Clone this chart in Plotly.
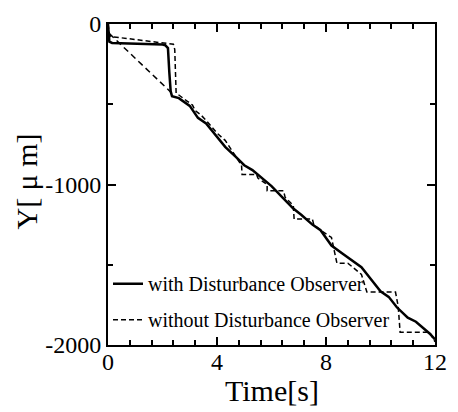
import plotly.graph_objects as go

# with Disturbance Observer
t_with = [0.0, 0.05, 0.15, 1.0, 2.0, 2.1, 2.2, 2.25, 2.3, 2.35, 2.6, 3.0, 3.3, 3.6, 4.0, 4.3, 4.7,
          5.0, 5.3, 5.7, 6.0, 6.4, 6.8, 7.1, 7.5, 7.8, 8.2, 8.6, 9.0, 9.3, 9.6, 10.0, 10.3, 10.6,
          11.0, 11.3, 11.8, 12.0]
y_with = [0, -110, -118, -122, -128, -132, -150, -300, -420, -450, -462, -510, -585, -620, -700,
          -765, -830, -880, -910, -965, -1010, -1080, -1150, -1190, -1250, -1285, -1380, -1430,
          -1480, -1515, -1580, -1665, -1700, -1765, -1830, -1855, -1928, -1965]

# without Disturbance Observer
t_wo = [0.0, 0.05, 0.1, 1.0, 2.0, 2.4, 2.45, 2.5, 2.9, 3.1, 3.2, 3.4, 3.6, 4.0, 4.3, 4.6, 4.9,
        4.92, 5.45, 5.5, 5.84, 5.84, 6.44, 6.5, 6.8, 6.83, 7.5, 7.55, 7.8, 8.2, 8.28, 8.4, 8.8,
        9.0, 9.3, 9.5, 10.55, 10.65, 10.72, 11.8, 12.0]
y_wo = [0, -60, -78, -95, -115, -126, -160, -430, -480, -505, -540, -565, -600, -680, -725,
        -800, -880, -937, -937, -960, -1000, -1039, -1039, -1080, -1130, -1215, -1215, -1250,
        -1285, -1330, -1400, -1490, -1490, -1520, -1560, -1670, -1670, -1760, -1920, -1920, -1980]

# reference (dashed diagonal)
t_ref = [0.05, 2.4]
y_ref = [-60, -440]

x_tickvals = [0, 4, 8, 12]
x_ticktext = ["0", "4", "8", "12"]
y_tickvals = [0, -1000, -2000]
y_ticktext = ["0", "-1000", "-2000"]

FONT = "Liberation Serif"

fig = go.Figure()
fig.add_trace(go.Scatter(x=t_ref, y=y_ref, mode="lines", showlegend=False,
                         line=dict(color="black", width=1.5, dash="6px,4px")))
fig.add_trace(go.Scatter(x=t_with, y=y_with, mode="lines", name="with Disturbance Observer",
                         legendgroup="a", line=dict(color="black", width=2.5)))
fig.add_trace(go.Scatter(x=t_wo, y=y_wo, mode="lines", name="without Disturbance Observer",
                         legendgroup="b", line=dict(color="black", width=1.5, dash="5px,3px")))

axis_common = dict(showline=True, linecolor="black", linewidth=2, mirror="allticks",
                   ticks="inside", ticklen=8, tickwidth=1.5, tickcolor="black",
                   showgrid=False, zeroline=False,
                   tickfont=dict(family=FONT, size=24, color="black"))

fig.update_xaxes(range=[0, 12], tickmode="array", tickvals=x_tickvals, ticktext=x_ticktext,
                 ticklabelstandoff=-6, ticklabeloverflow="allow",
                 minor=dict(ticks="inside", dtick=0.8, tick0=0, ticklen=5, tickcolor="black", tickwidth=1.5),
                 **axis_common)
fig.update_yaxes(range=[-2000, 0], tickmode="array", tickvals=y_tickvals, ticktext=y_ticktext,
                 minor=dict(ticks="inside", dtick=500, tick0=0, ticklen=5, tickcolor="black", tickwidth=1.5),
                 **axis_common)

fig.add_annotation(text="Time[s]", x=0.5, y=-0.141, xref="paper", yref="paper",
                   xanchor="center", yanchor="middle", showarrow=False,
                   font=dict(family=FONT, size=30, color="black"))
fig.add_annotation(text="Y[ μ m]", x=-0.25, y=0.51, xref="paper", yref="paper",
                   xanchor="center", yanchor="middle", showarrow=False, textangle=-90,
                   font=dict(family=FONT, size=30, color="black"))

fig.update_layout(
    width=458, height=412,
    margin=dict(l=108, r=11, t=12, b=67),
    plot_bgcolor="white", paper_bgcolor="white",
    legend=dict(x=0.0, y=0.135, xanchor="left", yanchor="middle",
                bgcolor="rgba(0,0,0,0)", traceorder="grouped", tracegroupgap=7,
                font=dict(family=FONT, size=20, color="black"), itemwidth=30),
)

fig.write_html("out.html")
